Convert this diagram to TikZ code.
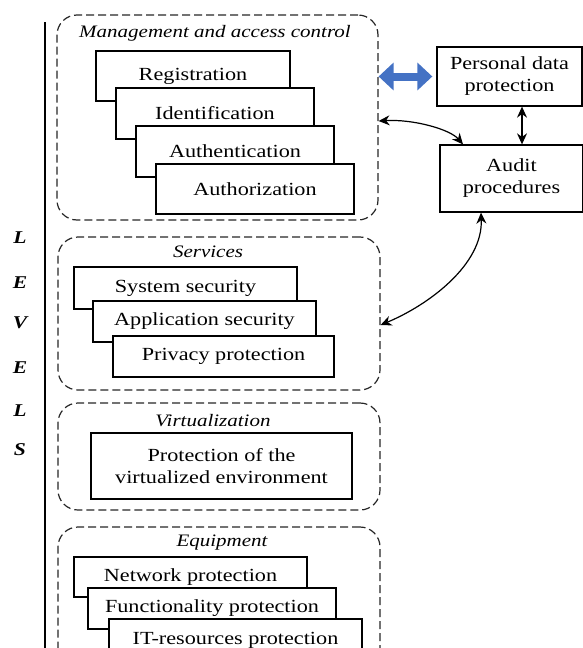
\documentclass[tikz,border=0pt]{standalone}
\usepackage{fontspec}
\setmainfont[FakeStretch=1.2]{Liberation Serif}
\usetikzlibrary{arrows.meta}
\definecolor{arrowblue}{HTML}{4472C4}
\begin{document}
\begin{tikzpicture}[x=1pt,y=-1pt,
  group/.style={draw=black!85, line width=1.2pt, dash pattern=on 8pt off 4pt,
    rounded corners=20pt, inner sep=0pt},
  item/.style={draw, line width=1.3pt, fill=white, inner sep=0pt,
    font=\fontsize{18.5}{22}\selectfont, align=center},
  title/.style={font=\fontsize{17.5}{20}\selectfont\itshape, inner sep=0pt},
  lev/.style={font=\fontsize{18}{20}\selectfont\bfseries\itshape, inner sep=0pt},
  link/.style={line width=1.2pt, {Stealth[length=11pt,width=10pt]}-{Stealth[length=11pt,width=10pt]}}]
\useasboundingbox (0,0) rectangle (583,648);
\clip (0,0) rectangle (583,648);

% level axis
\coordinate (lt) at (45,22);
\coordinate (lb) at (45,650);
\draw[line width=2.4pt] (lt) -- (lb);
\node[lev] (l1) at (20,238) {L};
\node[lev] (l2) at (20,283) {E};
\node[lev] (l3) at (20,323) {V};
\node[lev] (l4) at (20,368) {E};
\node[lev] (l5) at (20,411) {L};
\node[lev] (l6) at (20,450) {S};

% level groups
\node[group, minimum width=321pt, minimum height=205pt] (g1) at (217.5,117.5) {};
\node[title] (t1) at (215,33) {Management and access control};
\node[group, minimum width=322pt, minimum height=153pt] (g2) at (219,313.5) {};
\node[title] (t2) at (208,252) {Services};
\node[group, minimum width=322pt, minimum height=107pt] (g3) at (219,456.5) {};
\node[title] (t3) at (213,421) {Virtualization};
\node[group, minimum width=322pt, minimum height=160pt] (g4) at (219,607) {};
\node[title] (t4) at (222,543) {Equipment};

% management and access control
\node[item, minimum width=194pt, minimum height=50pt] (reg) at (193,76) {Registration};
\node[item, minimum width=198pt, minimum height=51pt] (ide) at (215,113.5) {Identification};
\node[item, minimum width=198pt, minimum height=51pt] (aut) at (235,151.5) {Authentication};
\node[item, minimum width=198pt, minimum height=50pt] (azn) at (255,189) {Authorization};

% services
\node[item, minimum width=223pt, minimum height=42pt] (sys) at (185.5,288) {System security};
\node[item, minimum width=223pt, minimum height=41pt] (app) at (204.5,321.5) {Application security};
\node[item, minimum width=221pt, minimum height=41pt] (prv) at (223.5,356.5) {Privacy protection};

% virtualization
\node[item, minimum width=261pt, minimum height=66pt] (vir) at (221.5,466)
  {Protection of the\\virtualized environment};

% equipment
\node[item, minimum width=233pt, minimum height=40pt] (net) at (190.5,577) {Network protection};
\node[item, minimum width=248pt, minimum height=41pt] (fun) at (212,608.5) {Functionality protection};
\node[item, minimum width=253pt, minimum height=42pt] (itr) at (235.5,640) {IT-resources protection};

% right-hand blocks
\node[item, minimum width=145pt, minimum height=59pt] (pers) at (509.5,76.5)
  {Personal data\\protection};
\node[item, minimum width=143pt, minimum height=67pt] (aud) at (511.5,178.5)
  {Audit\\procedures};

% connectors
\draw[arrowblue, line width=8pt, shorten >=4pt,
  {Triangle[length=15pt,width=27pt]}-{Triangle[length=15pt,width=27pt]}]
  (g1.east |- pers.west) -- (pers.west);
\draw[link] ([xshift=12.5pt]pers.south) -- ([xshift=10.5pt]aud.north);
\draw[link] ([yshift=-3.5pt]g1.east) .. controls +(35,-2) and +(-13,-15) ..
  ([xshift=-48.5pt]aud.north);
\draw[link] ([xshift=-30.5pt]aud.south) .. controls +(2,52) and +(48,-20) ..
  ([yshift=-11.5pt]g2.east);
\end{tikzpicture}
\end{document}
